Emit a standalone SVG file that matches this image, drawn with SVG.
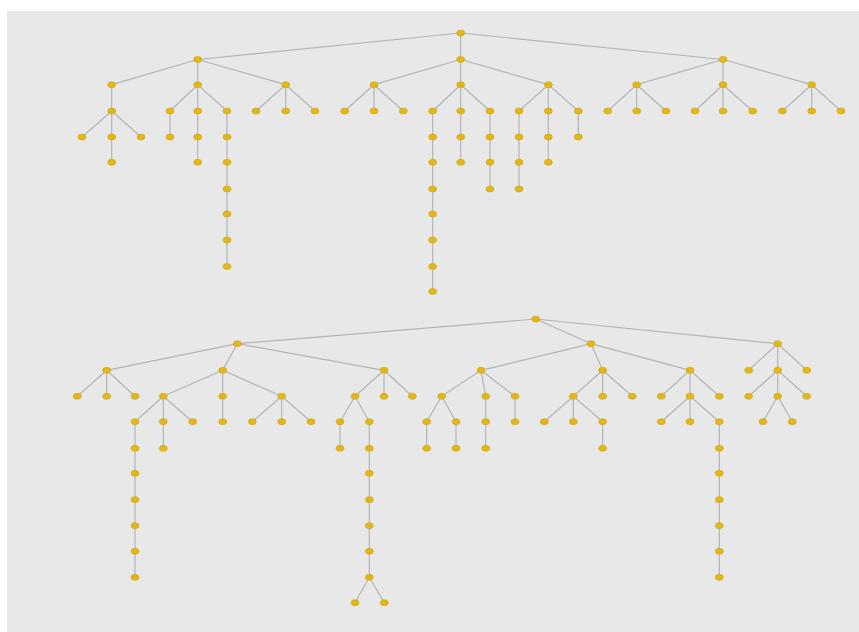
<svg xmlns="http://www.w3.org/2000/svg" xmlns:xlink="http://www.w3.org/1999/xlink" width="859" height="632" viewBox="0 0 859 632">
<style>
.e{stroke:#b4b4b8;stroke-width:1.2;fill:none}
.n{fill:#e2b716;stroke:#cfa40c;stroke-width:0.6}
</style>
<defs><ellipse id="dot" class="n" cx="0" cy="0" rx="4" ry="3"/></defs>
<rect x="0" y="0" width="859" height="632" fill="#ffffff"/>
<rect x="7" y="11" width="852" height="621" fill="#e8e8e8"/>
<g id="connectors" class="e">
<path d="M460.7 33L197.7 59.5M460.7 33L460.7 59.5M460.7 33L723 59.5"/>
<path d="M197.7 59.5L111.7 84.7M197.7 59.5L197.7 84.7M197.7 59.5L285.7 84.7M460.7 59.5L374 84.7M460.7 59.5L460.7 84.7M460.7 59.5L548.3 84.7M723 59.5L636.7 84.7M723 59.5L723 84.7M723 59.5L811.7 84.7"/>
<path d="M111.7 84.7L111.7 111M197.7 84.7L170 111M197.7 84.7L197.7 111M197.7 84.7L227 111M285.7 84.7L256 111M285.7 84.7L285.7 111M285.7 84.7L315 111M374 84.7L344.7 111M374 84.7L374 111M374 84.7L403.3 111M460.7 84.7L432.7 111M460.7 84.7L460.7 111M460.7 84.7L490 111M548.3 84.7L519 111M548.3 84.7L548.3 111M548.3 84.7L578.3 111M636.7 84.7L607.7 111M636.7 84.7L636.7 111M636.7 84.7L666 111M723 84.7L695 111M723 84.7L723 111M723 84.7L752.7 111M811.7 84.7L782.3 111M811.7 84.7L811.7 111M811.7 84.7L841 111"/>
<path d="M111.7 111L82 137M111.7 111L111.7 162.3M111.7 111L141 137M170 111V137M197.7 111V162.3M227 111V266.5M432.7 111V291.5M460.7 111V162.3M490 111V189M519 111V189M548.3 111V162.3M578.3 111V137"/>
<path d="M535.7 319L237.3 343.7M535.7 319L591 343.7M535.7 319L777.7 343.7"/>
<path d="M237.3 343.7L106.7 370.3M237.3 343.7L222.7 370.3M237.3 343.7L384 370.3M591 343.7L481 370.3M591 343.7L602.7 370.3M591 343.7L690 370.3M777.7 343.7L748.7 370.3M777.7 343.7L777.7 370.3M777.7 343.7L806.7 370.3"/>
<path d="M106.7 370.3L77.3 396.3M106.7 370.3L106.7 396.3M106.7 370.3L135 396.3M222.7 370.3L163.3 396.3M222.7 370.3L222.7 396.3M222.7 370.3L281.7 396.3M384 370.3L355 396.3M384 370.3L384 396.3M384 370.3L412.3 396.3M481 370.3L441.7 396.3M481 370.3L485.7 396.3M481 370.3L515 396.3M602.7 370.3L573.3 396.3M602.7 370.3L602.7 396.3M602.7 370.3L632.3 396.3M690 370.3L661.3 396.3M690 370.3L690 396.3M690 370.3L719.3 396.3M777.7 370.3L748.7 396.3M777.7 370.3L777.7 396.3M777.7 370.3L806.7 396.3"/>
<path d="M163.3 396.3L135 421.7M163.3 396.3L163.3 421.7M163.3 396.3L192.7 421.7M222.7 396.3L222.7 421.7M281.7 396.3L252.3 421.7M281.7 396.3L281.7 421.7M281.7 396.3L311 421.7M355 396.3L340 421.7M355 396.3L369.3 421.7M441.7 396.3L426.7 421.7M441.7 396.3L456 421.7M485.7 396.3L485.7 421.7M515 396.3L515 421.7M573.3 396.3L544.3 421.7M573.3 396.3L573.3 421.7M573.3 396.3L602.7 421.7M690 396.3L661.3 421.7M690 396.3L690 421.7M690 396.3L719.3 421.7M777.7 396.3L763 421.7M777.7 396.3L792.3 421.7"/>
<path d="M135 421.7V577.3M163.3 421.7V448.3M340 421.7V448.3M369.3 421.7V577.3M426.7 421.7V448.3M456 421.7V448.3M485.7 421.7V448.3M602.7 421.7V448.3M719.3 421.7V577.3M369.3 577.3L355 602.7M369.3 577.3L384.3 602.7"/>
</g>
<g id="nodes">
<g id="t0"><use href="#dot" x="460.7" y="33"/></g>
<g id="t1"><use href="#dot" x="197.7" y="59.5"/></g>
<g id="t2"><use href="#dot" x="460.7" y="59.5"/></g>
<g id="t3"><use href="#dot" x="723" y="59.5"/></g>
<g id="t4"><use href="#dot" x="111.7" y="84.7"/></g>
<g id="t5"><use href="#dot" x="197.7" y="84.7"/></g>
<g id="t6"><use href="#dot" x="285.7" y="84.7"/></g>
<g id="t7"><use href="#dot" x="374" y="84.7"/></g>
<g id="t8"><use href="#dot" x="460.7" y="84.7"/></g>
<g id="t9"><use href="#dot" x="548.3" y="84.7"/></g>
<g id="t10"><use href="#dot" x="636.7" y="84.7"/></g>
<g id="t11"><use href="#dot" x="723" y="84.7"/></g>
<g id="t12"><use href="#dot" x="811.7" y="84.7"/></g>
<g id="t13"><use href="#dot" x="111.7" y="111"/></g>
<g id="t14"><use href="#dot" x="170" y="111"/></g>
<g id="t15"><use href="#dot" x="197.7" y="111"/></g>
<g id="t16"><use href="#dot" x="227" y="111"/></g>
<g id="t17"><use href="#dot" x="256" y="111"/></g>
<g id="t18"><use href="#dot" x="285.7" y="111"/></g>
<g id="t19"><use href="#dot" x="315" y="111"/></g>
<g id="t20"><use href="#dot" x="344.7" y="111"/></g>
<g id="t21"><use href="#dot" x="374" y="111"/></g>
<g id="t22"><use href="#dot" x="403.3" y="111"/></g>
<g id="t23"><use href="#dot" x="432.7" y="111"/></g>
<g id="t24"><use href="#dot" x="460.7" y="111"/></g>
<g id="t25"><use href="#dot" x="490" y="111"/></g>
<g id="t26"><use href="#dot" x="519" y="111"/></g>
<g id="t27"><use href="#dot" x="548.3" y="111"/></g>
<g id="t28"><use href="#dot" x="578.3" y="111"/></g>
<g id="t29"><use href="#dot" x="607.7" y="111"/></g>
<g id="t30"><use href="#dot" x="636.7" y="111"/></g>
<g id="t31"><use href="#dot" x="666" y="111"/></g>
<g id="t32"><use href="#dot" x="695" y="111"/></g>
<g id="t33"><use href="#dot" x="723" y="111"/></g>
<g id="t34"><use href="#dot" x="752.7" y="111"/></g>
<g id="t35"><use href="#dot" x="782.3" y="111"/></g>
<g id="t36"><use href="#dot" x="811.7" y="111"/></g>
<g id="t37"><use href="#dot" x="841" y="111"/></g>
<g id="t38"><use href="#dot" x="82" y="137"/></g>
<g id="t39"><use href="#dot" x="111.7" y="137"/></g>
<g id="t40"><use href="#dot" x="141" y="137"/></g>
<g id="t41"><use href="#dot" x="170" y="137"/></g>
<g id="t42"><use href="#dot" x="197.7" y="137"/></g>
<g id="t43"><use href="#dot" x="227" y="137"/></g>
<g id="t44"><use href="#dot" x="432.7" y="137"/></g>
<g id="t45"><use href="#dot" x="460.7" y="137"/></g>
<g id="t46"><use href="#dot" x="490" y="137"/></g>
<g id="t47"><use href="#dot" x="519" y="137"/></g>
<g id="t48"><use href="#dot" x="548.3" y="137"/></g>
<g id="t49"><use href="#dot" x="578.3" y="137"/></g>
<g id="t50"><use href="#dot" x="111.7" y="162.3"/></g>
<g id="t51"><use href="#dot" x="197.7" y="162.3"/></g>
<g id="t52"><use href="#dot" x="227" y="162.3"/></g>
<g id="t53"><use href="#dot" x="432.7" y="162.3"/></g>
<g id="t54"><use href="#dot" x="460.7" y="162.3"/></g>
<g id="t55"><use href="#dot" x="490" y="162.3"/></g>
<g id="t56"><use href="#dot" x="519" y="162.3"/></g>
<g id="t57"><use href="#dot" x="548.3" y="162.3"/></g>
<g id="t58"><use href="#dot" x="227" y="189"/></g>
<g id="t59"><use href="#dot" x="432.7" y="189"/></g>
<g id="t60"><use href="#dot" x="490" y="189"/></g>
<g id="t61"><use href="#dot" x="519" y="189"/></g>
<g id="t62"><use href="#dot" x="227" y="214"/></g>
<g id="t63"><use href="#dot" x="432.7" y="214"/></g>
<g id="t64"><use href="#dot" x="227" y="240"/></g>
<g id="t65"><use href="#dot" x="432.7" y="240"/></g>
<g id="t66"><use href="#dot" x="227" y="266.5"/></g>
<g id="t67"><use href="#dot" x="432.7" y="266.5"/></g>
<g id="t68"><use href="#dot" x="432.7" y="291.5"/></g>
<g id="b0"><use href="#dot" x="535.7" y="319"/></g>
<g id="b1"><use href="#dot" x="237.3" y="343.7"/></g>
<g id="b2"><use href="#dot" x="591" y="343.7"/></g>
<g id="b3"><use href="#dot" x="777.7" y="343.7"/></g>
<g id="b4"><use href="#dot" x="106.7" y="370.3"/></g>
<g id="b5"><use href="#dot" x="222.7" y="370.3"/></g>
<g id="b6"><use href="#dot" x="384" y="370.3"/></g>
<g id="b7"><use href="#dot" x="481" y="370.3"/></g>
<g id="b8"><use href="#dot" x="602.7" y="370.3"/></g>
<g id="b9"><use href="#dot" x="690" y="370.3"/></g>
<g id="b10"><use href="#dot" x="748.7" y="370.3"/></g>
<g id="b11"><use href="#dot" x="777.7" y="370.3"/></g>
<g id="b12"><use href="#dot" x="806.7" y="370.3"/></g>
<g id="b13"><use href="#dot" x="77.3" y="396.3"/></g>
<g id="b14"><use href="#dot" x="106.7" y="396.3"/></g>
<g id="b15"><use href="#dot" x="135" y="396.3"/></g>
<g id="b16"><use href="#dot" x="163.3" y="396.3"/></g>
<g id="b17"><use href="#dot" x="222.7" y="396.3"/></g>
<g id="b18"><use href="#dot" x="281.7" y="396.3"/></g>
<g id="b19"><use href="#dot" x="355" y="396.3"/></g>
<g id="b20"><use href="#dot" x="384" y="396.3"/></g>
<g id="b21"><use href="#dot" x="412.3" y="396.3"/></g>
<g id="b22"><use href="#dot" x="441.7" y="396.3"/></g>
<g id="b23"><use href="#dot" x="485.7" y="396.3"/></g>
<g id="b24"><use href="#dot" x="515" y="396.3"/></g>
<g id="b25"><use href="#dot" x="573.3" y="396.3"/></g>
<g id="b26"><use href="#dot" x="602.7" y="396.3"/></g>
<g id="b27"><use href="#dot" x="632.3" y="396.3"/></g>
<g id="b28"><use href="#dot" x="661.3" y="396.3"/></g>
<g id="b29"><use href="#dot" x="690" y="396.3"/></g>
<g id="b30"><use href="#dot" x="719.3" y="396.3"/></g>
<g id="b31"><use href="#dot" x="748.7" y="396.3"/></g>
<g id="b32"><use href="#dot" x="777.7" y="396.3"/></g>
<g id="b33"><use href="#dot" x="806.7" y="396.3"/></g>
<g id="b34"><use href="#dot" x="135" y="421.7"/></g>
<g id="b35"><use href="#dot" x="163.3" y="421.7"/></g>
<g id="b36"><use href="#dot" x="192.7" y="421.7"/></g>
<g id="b37"><use href="#dot" x="222.7" y="421.7"/></g>
<g id="b38"><use href="#dot" x="252.3" y="421.7"/></g>
<g id="b39"><use href="#dot" x="281.7" y="421.7"/></g>
<g id="b40"><use href="#dot" x="311" y="421.7"/></g>
<g id="b41"><use href="#dot" x="340" y="421.7"/></g>
<g id="b42"><use href="#dot" x="369.3" y="421.7"/></g>
<g id="b43"><use href="#dot" x="426.7" y="421.7"/></g>
<g id="b44"><use href="#dot" x="456" y="421.7"/></g>
<g id="b45"><use href="#dot" x="485.7" y="421.7"/></g>
<g id="b46"><use href="#dot" x="515" y="421.7"/></g>
<g id="b47"><use href="#dot" x="544.3" y="421.7"/></g>
<g id="b48"><use href="#dot" x="573.3" y="421.7"/></g>
<g id="b49"><use href="#dot" x="602.7" y="421.7"/></g>
<g id="b50"><use href="#dot" x="661.3" y="421.7"/></g>
<g id="b51"><use href="#dot" x="690" y="421.7"/></g>
<g id="b52"><use href="#dot" x="719.3" y="421.7"/></g>
<g id="b53"><use href="#dot" x="763" y="421.7"/></g>
<g id="b54"><use href="#dot" x="792.3" y="421.7"/></g>
<g id="b55"><use href="#dot" x="135" y="448.3"/></g>
<g id="b56"><use href="#dot" x="163.3" y="448.3"/></g>
<g id="b57"><use href="#dot" x="340" y="448.3"/></g>
<g id="b58"><use href="#dot" x="369.3" y="448.3"/></g>
<g id="b59"><use href="#dot" x="426.7" y="448.3"/></g>
<g id="b60"><use href="#dot" x="456" y="448.3"/></g>
<g id="b61"><use href="#dot" x="485.7" y="448.3"/></g>
<g id="b62"><use href="#dot" x="602.7" y="448.3"/></g>
<g id="b63"><use href="#dot" x="719.3" y="448.3"/></g>
<g id="b64"><use href="#dot" x="135" y="473.3"/></g>
<g id="b65"><use href="#dot" x="369.3" y="473.3"/></g>
<g id="b66"><use href="#dot" x="719.3" y="473.3"/></g>
<g id="b67"><use href="#dot" x="135" y="499.7"/></g>
<g id="b68"><use href="#dot" x="369.3" y="499.7"/></g>
<g id="b69"><use href="#dot" x="719.3" y="499.7"/></g>
<g id="b70"><use href="#dot" x="135" y="525.7"/></g>
<g id="b71"><use href="#dot" x="369.3" y="525.7"/></g>
<g id="b72"><use href="#dot" x="719.3" y="525.7"/></g>
<g id="b73"><use href="#dot" x="135" y="551.3"/></g>
<g id="b74"><use href="#dot" x="369.3" y="551.3"/></g>
<g id="b75"><use href="#dot" x="719.3" y="551.3"/></g>
<g id="b76"><use href="#dot" x="135" y="577.3"/></g>
<g id="b77"><use href="#dot" x="369.3" y="577.3"/></g>
<g id="b78"><use href="#dot" x="719.3" y="577.3"/></g>
<g id="b79"><use href="#dot" x="355" y="602.7"/></g>
<g id="b80"><use href="#dot" x="384.3" y="602.7"/></g>
</g>
</svg>
